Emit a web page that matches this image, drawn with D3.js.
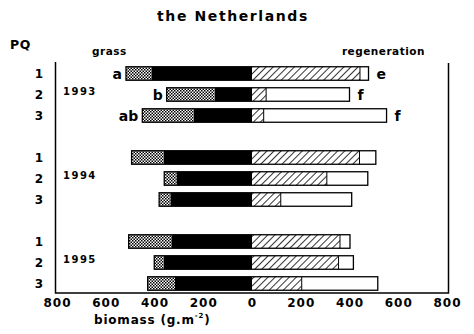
<!DOCTYPE html>
<html>
<head>
<meta charset="utf-8">
<script src="https://cdn.jsdelivr.net/npm/d3@7"></script>
<style>
  body { margin: 0; background: #fff; }
  svg text { font-family: "DejaVu Sans", sans-serif; font-weight: bold; fill: #000; }
</style>
</head>
<body>
<div id="chart"></div>
<script>
// data (g.m-2)
const years = ["1993", "1994", "1995"];
const plots = ["1", "2", "3"];
// grass side (drawn to the left): solid part next to zero, then cross-hatched part
const grassSolid = [[412, 152, 238], [361, 309, 334], [330, 361, 316]];
const grassHatch = [[105, 198, 212], [133, 51, 47], [176, 40, 112]];
// regeneration side (drawn to the right): hatched part, then open part
const regenHatch = [[443, 58, 48], [441, 307, 118], [361, 355, 204]];
const regenOpen = [[35, 342, 504], [67, 168, 291], [41, 61, 312]];
// significance letters (1993 only)
const leftLetters = ["a", "b", "ab"];
const rightLetters = ["e", "f", "f"];
const xTicks = [-800, -600, -400, -200, 0, 200, 400, 600, 800];

const W = 474, H = 334;
const svg = d3.select("#chart").append("svg")
  .attr("width", W).attr("height", H);

const defs = svg.append("defs");
// fine checker for the cross-hatched part
const chk = defs.append("pattern")
  .attr("id", "checker").attr("patternUnits", "userSpaceOnUse")
  .attr("width", 3).attr("height", 3);
chk.append("rect").attr("width", 3).attr("height", 3).attr("fill", "#fff");
chk.append("rect").attr("width", 1.5).attr("height", 1.5).attr("fill", "#000");
chk.append("rect").attr("x", 1.5).attr("y", 1.5).attr("width", 1.5).attr("height", 1.5).attr("fill", "#000");
// diagonal lines for the hatched part
const diag = defs.append("pattern")
  .attr("id", "diag").attr("patternUnits", "userSpaceOnUse")
  .attr("width", 5).attr("height", 5)
  .attr("patternTransform", "rotate(45)");
diag.append("rect").attr("width", 5).attr("height", 5).attr("fill", "#fff");
diag.append("line").attr("x1", 0).attr("y1", 0).attr("x2", 0).attr("y2", 5)
  .attr("stroke", "#000").attr("stroke-width", 1.6);

const x = d3.scaleLinear().domain([-800, 800]).range([57, 447]);

// rows with an empty slot between the years
const slots = [];
years.forEach((yr, i) => {
  plots.forEach(p => slots.push(yr + "-" + p));
  if (i < years.length - 1) slots.push("gap" + i);
});
const y = d3.scalePoint().domain(slots).range([73.5, 283.5]);
const barH = 13.5;

const rows = [];
years.forEach((yr, i) => plots.forEach((p, j) => rows.push({
  year: yr, plot: p, yi: i, pi: j,
  solid: grassSolid[i][j], cross: grassHatch[i][j],
  hatch: regenHatch[i][j], open: regenOpen[i][j]
})));

// frame (left, bottom, right)
const yBottom = 293;
svg.append("path")
  .attr("d", `M${x(-800) - 1.5},62 V${yBottom} H${x(800) + 1.5} V63`)
  .attr("fill", "none").attr("stroke", "#000").attr("stroke-width", 1.5);

// bars
const g = svg.append("g");
rows.forEach(d => {
  const cy = y(d.year + "-" + d.plot) - barH / 2;
  const segs = [
    { x0: -d.solid - d.cross, x1: -d.solid, fill: "url(#checker)" },
    { x0: -d.solid, x1: 0, fill: "#000" },
    { x0: 0, x1: d.hatch, fill: "url(#diag)" },
    { x0: d.hatch, x1: d.hatch + d.open, fill: "#fff" }
  ];
  g.selectAll(null).data(segs).enter().append("rect")
    .attr("x", s => x(s.x0))
    .attr("y", cy)
    .attr("width", s => x(s.x1) - x(s.x0))
    .attr("height", barH)
    .attr("fill", s => s.fill);
  // outline of the whole bar
  g.append("rect")
    .attr("x", x(-d.solid - d.cross)).attr("y", cy)
    .attr("width", x(d.hatch + d.open) - x(-d.solid - d.cross))
    .attr("height", barH)
    .attr("fill", "none").attr("stroke", "#000").attr("stroke-width", 1.3);
  // divider between the hatched and open parts
  g.append("line")
    .attr("x1", x(d.hatch)).attr("x2", x(d.hatch))
    .attr("y1", cy).attr("y2", cy + barH)
    .attr("stroke", "#000").attr("stroke-width", 1);
});

// significance letters
rows.filter(d => d.yi === 0).forEach(d => {
  const cy = y(d.year + "-" + d.plot);
  svg.append("text")
    .attr("x", x(-d.solid - d.cross) - 4).attr("y", cy + 5)
    .attr("text-anchor", "end").attr("font-size", 14)
    .text(leftLetters[d.pi]);
  svg.append("text")
    .attr("x", x(d.hatch + d.open) + 8).attr("y", cy + 5)
    .attr("font-size", 14)
    .text(rightLetters[d.pi]);
});

// plot numbers and year labels
rows.forEach(d => {
  svg.append("text")
    .attr("x", 43).attr("y", y(d.year + "-" + d.plot) + 4.5)
    .attr("text-anchor", "end").attr("font-size", 12)
    .text(d.plot);
});
years.forEach(yr => {
  svg.append("text")
    .attr("x", 63).attr("y", y(yr + "-2") + 0)
    .attr("font-size", 10).attr("letter-spacing", 1.5)
    .text(yr);
});

// x axis labels
const axis = svg.append("g")
  .attr("transform", `translate(0,${yBottom})`)
  .call(d3.axisBottom(x).tickValues(xTicks).tickSize(0).tickPadding(5)
    .tickFormat(v => Math.abs(v)));
axis.select(".domain").remove();
axis.selectAll("text")
  .style("font-family", "'DejaVu Sans', sans-serif")
  .style("font-weight", "bold")
  .attr("font-size", 12).attr("letter-spacing", 1);

const xl = svg.append("text").attr("x", 94).attr("y", 324)
  .attr("font-size", 12).attr("letter-spacing", 0.8);
xl.append("tspan").text("biomass (g.m");
xl.append("tspan").attr("font-size", 7).attr("dy", -6).text("-2");
xl.append("tspan").attr("dy", 6).text(")");

// headings
svg.append("text").attr("x", 233).attr("y", 21)
  .attr("text-anchor", "middle").attr("font-size", 14).attr("letter-spacing", 1.6)
  .text("the Netherlands");
svg.append("text").attr("x", 10).attr("y", 49)
  .attr("font-size", 12.5).attr("letter-spacing", 0.5).text("PQ");
svg.append("text").attr("x", 92).attr("y", 55)
  .attr("font-size", 10.5).attr("letter-spacing", 0.5).text("grass");
svg.append("text").attr("x", 425).attr("y", 55)
  .attr("text-anchor", "end")
  .attr("font-size", 10.5).attr("letter-spacing", 0.5).text("regeneration");
</script>
</body>
</html>
